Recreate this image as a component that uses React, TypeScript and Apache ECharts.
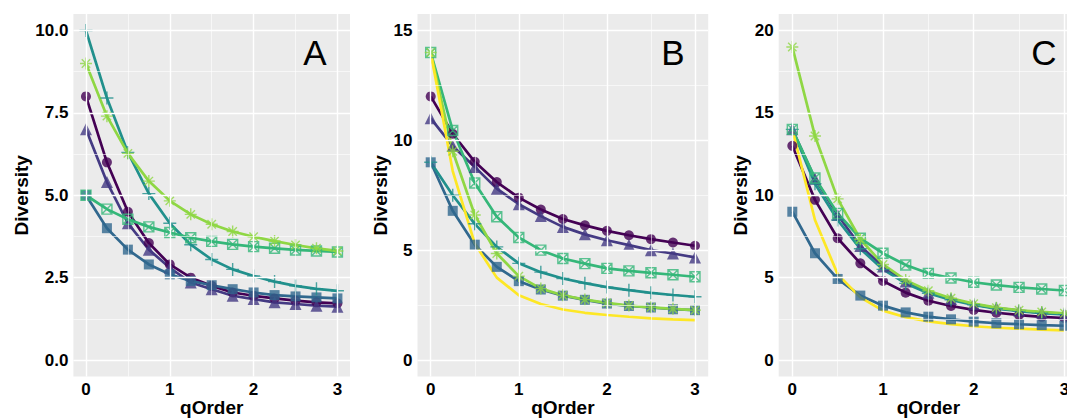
import React, { useEffect, useRef } from "react";
import * as echarts from "echarts";

const qOrder = [0, 0.25, 0.5, 0.75, 1, 1.25, 1.5, 1.75, 2, 2.25, 2.5, 2.75, 3];
const xTicks = [0, 1, 2, 3];

// Panel A
const A_circle = [8.0, 6.0, 4.5, 3.55, 2.9, 2.5, 2.25, 2.05, 1.95, 1.87, 1.8, 1.75, 1.72];
const A_triangle = [7.0, 5.4, 4.15, 3.35, 2.8, 2.35, 2.15, 1.95, 1.85, 1.75, 1.7, 1.65, 1.62];
const A_square = [5.0, 4.0, 3.35, 2.9, 2.6, 2.4, 2.27, 2.15, 2.05, 1.97, 1.93, 1.9, 1.87];
const A_plus = [10.0, 7.95, 6.3, 5.05, 4.15, 3.5, 3.05, 2.75, 2.55, 2.38, 2.25, 2.16, 2.1];
const A_boxx = [5.0, 4.58, 4.27, 4.04, 3.87, 3.71, 3.6, 3.51, 3.44, 3.39, 3.34, 3.31, 3.28];
const A_star = [9.0, 7.4, 6.27, 5.43, 4.83, 4.42, 4.12, 3.9, 3.74, 3.61, 3.49, 3.39, 3.31];
const A_yellow: number[] = [];
const A_yTicks = [0, 2.5, 5, 7.5, 10];

// Panel B
const B_circle = [12.0, 10.3, 9.02, 8.1, 7.39, 6.85, 6.42, 6.13, 5.88, 5.68, 5.5, 5.35, 5.2];
const B_triangle = [11.0, 9.74, 8.79, 7.8, 7.09, 6.55, 6.06, 5.72, 5.45, 5.23, 5.0, 4.85, 4.67];
const B_square = [9.0, 6.79, 5.25, 4.24, 3.59, 3.21, 2.93, 2.74, 2.57, 2.46, 2.39, 2.31, 2.27];
const B_plus = [9.0, 7.5, 6.2, 5.15, 4.4, 4.0, 3.71, 3.5, 3.32, 3.18, 3.06, 2.96, 2.88];
const B_boxx = [14.0, 10.45, 8.06, 6.52, 5.58, 5.0, 4.62, 4.39, 4.17, 4.06, 3.97, 3.88, 3.79];
const B_star = [14.0, 9.5, 6.6, 4.85, 3.82, 3.25, 2.95, 2.75, 2.6, 2.48, 2.4, 2.33, 2.27];
const B_yellow = [14.0, 8.6, 5.3, 3.75, 2.95, 2.55, 2.3, 2.15, 2.05, 1.97, 1.9, 1.85, 1.82];
const B_yTicks = [0, 5, 10, 15];

// Panel C
const C_circle = [13.0, 9.72, 7.39, 5.87, 4.8, 4.09, 3.6, 3.28, 3.04, 2.87, 2.73, 2.62, 2.55];
const C_triangle = [14.0, 11.0, 8.8, 6.92, 5.67, 4.76, 4.09, 3.7, 3.38, 3.15, 3.0, 2.88, 2.8];
const C_square = [9.0, 6.48, 4.92, 3.91, 3.3, 2.89, 2.63, 2.47, 2.33, 2.23, 2.17, 2.12, 2.08];
const C_plus = [14.0, 10.7, 8.5, 6.75, 5.5, 4.65, 4.05, 3.65, 3.35, 3.12, 2.97, 2.85, 2.77];
const C_boxx = [14.0, 11.05, 8.9, 7.39, 6.48, 5.77, 5.26, 4.98, 4.72, 4.55, 4.41, 4.31, 4.22];
const C_star = [19.0, 13.6, 9.78, 7.33, 5.8, 4.85, 4.2, 3.75, 3.42, 3.18, 3.02, 2.92, 2.84];
const C_yellow = [14.0, 8.5, 5.2, 3.8, 3.0, 2.6, 2.35, 2.18, 2.05, 1.96, 1.9, 1.85, 1.8];
const C_yTicks = [0, 5, 10, 15, 20];

const panelLabels = ["A", "B", "C"];

const FONT = "'Liberation Sans', Arial, Helvetica, sans-serif";

const groups = [
  { key: "circle", color: "#440154", symbol: "circle", size: 10, filled: true },
  { key: "triangle", color: "#443A83", symbol: "triangle", size: 12, filled: true },
  { key: "square", color: "#31688E", symbol: "rect", size: 10, filled: true },
  { key: "plus", color: "#21908C", symbol: "path://M5,0L5,10M0,5L10,5", size: 13, filled: false },
  { key: "boxx", color: "#35B779", symbol: "path://M0,0L10,0L10,10L0,10ZM0,0L10,10M10,0L0,10", size: 10, filled: false },
  { key: "star", color: "#8FD744", symbol: "path://M5,0L5,10M0,5L10,5M1.5,1.5L8.5,8.5M8.5,1.5L1.5,8.5", size: 12, filled: false },
  { key: "yellow", color: "#FDE725", symbol: "none", size: 0, filled: true },
];

export default function App() {
  const ref = useRef<HTMLDivElement>(null);

  useEffect(() => {
    if (!ref.current) return;
    const chart = echarts.init(ref.current, undefined, { renderer: "svg" });

    const panelData: Record<string, number[]>[] = [
      { circle: A_circle, triangle: A_triangle, square: A_square, plus: A_plus, boxx: A_boxx, star: A_star, yellow: A_yellow },
      { circle: B_circle, triangle: B_triangle, square: B_square, plus: B_plus, boxx: B_boxx, star: B_star, yellow: B_yellow },
      { circle: C_circle, triangle: C_triangle, square: C_square, plus: C_plus, boxx: C_boxx, star: C_star, yellow: C_yellow },
    ];
    const yTicks = [A_yTicks, B_yTicks, C_yTicks];
    const decimals = [1, 0, 0];

    const gridBoxes = [
      { left: 73.4, top: 14, width: 276.6, height: 362.5 },
      { left: 417.5, top: 14, width: 290.7, height: 362.5 },
      { left: 778.7, top: 14, width: 299.3, height: 362.5 },
    ];
    const yNameGap = [42, 27, 29];
    const labelPos = [
      [315, 52],
      [673, 52],
      [1044, 52],
    ];

    const grids: any[] = [];
    const xAxes: any[] = [];
    const yAxes: any[] = [];
    const series: any[] = [];
    const graphics: any[] = [];

    for (let p = 0; p < 3; p++) {
      const yt = yTicks[p];
      const yMaxTick = yt[yt.length - 1];
      const yExp = yMaxTick * 0.05;
      const xExp = 3 * 0.05;
      grids.push({
        ...gridBoxes[p],
        show: true,
        backgroundColor: "#EBEBEB",
        borderWidth: 0,
        containLabel: false,
        outerBoundsMode: "none",
      });
      xAxes.push({
        type: "value",
        gridIndex: p,
        min: -xExp,
        max: 3 + xExp,
        axisLine: { show: false },
        splitLine: { show: false },
        axisTick: { show: true, customValues: xTicks, length: 3.5, lineStyle: { color: "#333333", width: 1 } },
        axisLabel: {
          customValues: xTicks,
          margin: 4,
          color: "#000",
          fontWeight: "bold",
          fontSize: 17,
          fontFamily: FONT,
          formatter: (v: number) => String(Math.round(v)),
        },
        name: "qOrder",
        nameLocation: "middle",
        nameMoveOverlap: false,
        nameGap: 21,
        nameTextStyle: { color: "#000", fontWeight: "bold", fontSize: 19, fontFamily: FONT },
      });
      const dec = decimals[p];
      yAxes.push({
        type: "value",
        gridIndex: p,
        min: -yExp,
        max: yMaxTick + yExp,
        axisLine: { show: false },
        splitLine: { show: false },
        axisTick: { show: true, customValues: yt, length: 3.5, lineStyle: { color: "#333333", width: 1 } },
        axisLabel: {
          customValues: yt,
          margin: 5,
          color: "#000",
          fontWeight: "bold",
          fontSize: 17,
          fontFamily: FONT,
          formatter: (v: number) => v.toFixed(dec),
        },
        name: "Diversity",
        nameLocation: "middle",
        nameGap: yNameGap[p],
        nameTextStyle: { color: "#000", fontWeight: "bold", fontSize: 19, fontFamily: FONT },
      });

      // grid lines via markLines on a background series
      const yStep = yt[1] - yt[0];
      const yMinor = yt.slice(0, -1).map((v) => v + yStep / 2);
      const xMinor = xTicks.slice(0, -1).map((v) => v + 0.5);
      const major = { color: "#FFFFFF", width: 1.4, type: "solid" };
      const minor = { color: "#FFFFFF", width: 0.6, type: "solid" };
      series.push({
        type: "line",
        xAxisIndex: p,
        yAxisIndex: p,
        data: [],
        z: 1,
        silent: true,
        markLine: {
          silent: true,
          symbol: ["none", "none"],
          label: { show: false },
          emphasis: { disabled: true },
          data: [
            ...yMinor.map((v) => ({ yAxis: v, lineStyle: minor })),
            ...xMinor.map((v) => ({ xAxis: v, lineStyle: minor })),
            ...yt.map((v) => ({ yAxis: v, lineStyle: major })),
            ...xTicks.map((v) => ({ xAxis: v, lineStyle: major })),
          ],
        },
      });

      const data = panelData[p];
      groups.forEach((g, gi) => {
        const vals = data[g.key];
        if (!vals || vals.length === 0) return;
        const pts = qOrder.map((q, i) => [q, vals[i]]);
        series.push({
          type: "line",
          xAxisIndex: p,
          yAxisIndex: p,
          data: pts,
          showSymbol: false,
          symbol: "none",
          z: 2 + gi * 0.01,
          silent: true,
          lineStyle: { color: g.color, width: 2.7 },
          itemStyle: { color: g.color },
        });
        if (g.symbol !== "none") {
          series.push({
            type: "scatter",
            xAxisIndex: p,
            yAxisIndex: p,
            data: pts,
            symbol: g.symbol,
            symbolSize: g.size,
            z: 3 + gi * 0.01,
            silent: true,
            itemStyle: g.filled
              ? { color: g.color }
              : { color: "rgba(0,0,0,0)", borderColor: g.color, borderWidth: 1.4 },
          });
        }
      });

      graphics.push({
        type: "text",
        x: labelPos[p][0],
        y: labelPos[p][1],
        z: 100,
        style: {
          text: panelLabels[p],
          fill: "#000",
          fontSize: 35,
          fontFamily: FONT,
          fontWeight: "normal",
          textAlign: "center",
          textVerticalAlign: "middle",
        },
      });
    }

    chart.setOption({
      animation: false,
      backgroundColor: "#FFFFFF",
      grid: grids,
      xAxis: xAxes,
      yAxis: yAxes,
      series,
      graphic: graphics,
    });

    return () => chart.dispose();
  }, []);

  return (
    <div
      ref={ref}
      style={{ position: "absolute", left: 0, top: 0, width: 1067, height: 419 }}
    />
  );
}
